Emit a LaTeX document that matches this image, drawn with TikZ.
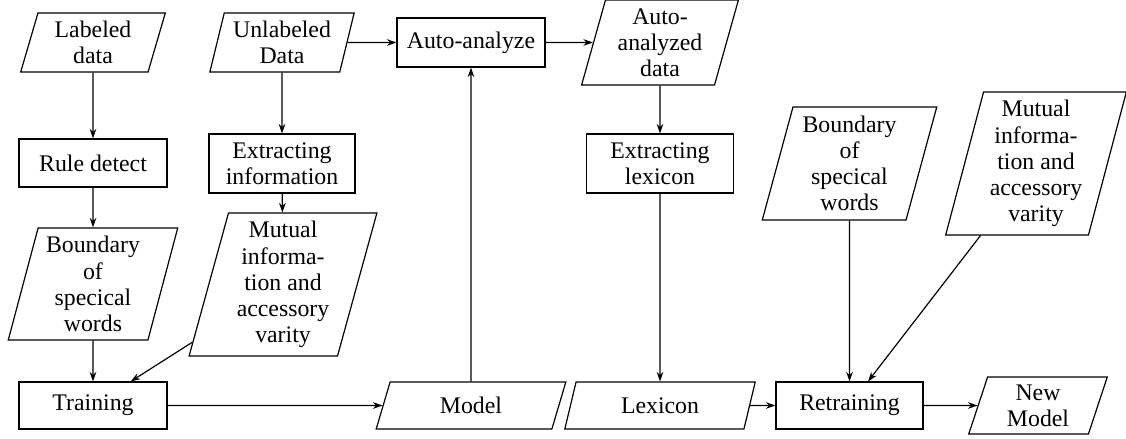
\documentclass[tikz,border=0pt]{standalone}
\usepackage{fontspec}
\setmainfont{Liberation Serif}
\usetikzlibrary{shapes.geometric,arrows.meta}
\tikzset{
  base/.style={draw, line width=0.5pt, align=center, inner sep=1pt, font=\fontsize{10}{11}\selectfont},
  procbox/.style={base, rectangle},
  databox/.style={base, trapezium, trapezium left angle=75, trapezium right angle=105, trapezium stretches=true},
  conn/.style={draw, line width=0.5pt, -{Stealth[length=4pt,width=2.8pt]}}
}
\begin{document}
\begin{tikzpicture}[x=0.4202pt, y=-0.4202pt]
\useasboundingbox (0,0) rectangle (1126,438);
% column 1
\node[databox, minimum width=60.9pt, minimum height=24.8pt] (labeled) at (93,42.5) {Labeled\\data};
\node[procbox, minimum width=62.2pt, minimum height=20.2pt] (rule) at (93,163) {Rule detect};
\node[databox, minimum width=71.4pt, minimum height=47.1pt] (boundL) at (93,284) {Boundary\\of\\specical\\words};
\node[procbox, minimum width=62.2pt, minimum height=19.75pt] (train) at (93,405.5) {Training};
% column 2
\node[databox, minimum width=60.9pt, minimum height=24.8pt] (unlabeled) at (282,42.5) {Unlabeled\\Data};
\node[procbox, minimum width=61.3pt, minimum height=24.8pt] (exinfo) at (282,163.5) {Extracting\\information};
\node[databox, minimum width=79pt, minimum height=60.1pt] (mutualL) at (283,284.5) {Mutual\\informa-\\tion and\\accessory\\varity};
% column 3
\node[procbox, minimum width=62.2pt, minimum height=20.6pt] (auto) at (471,42.5) {Auto-analyze};
\node[databox, minimum width=79.8pt, minimum height=19.75pt] (model) at (471,405.5) {Model};
% column 4
\node[databox, minimum width=66pt, minimum height=35.7pt] (autodata) at (660,42.5) {Auto-\\analyzed\\data};
\node[procbox, minimum width=61.8pt, minimum height=24.8pt] (exlex) at (660,163.5) {Extracting\\lexicon};
\node[databox, minimum width=80.2pt, minimum height=19.75pt] (lexicon) at (660,405.5) {Lexicon};
% column 5
\node[databox, minimum width=73.5pt, minimum height=47.5pt] (boundR) at (849.5,163.5) {Boundary\\of\\specical\\words};
\node[procbox, minimum width=61.8pt, minimum height=19.75pt] (retrain) at (849.5,405.5) {Retraining};
% column 6
\node[databox, minimum width=76pt, minimum height=60.1pt] (mutualR) at (1036,163.5) {Mutual\\informa-\\tion and\\accessory\\varity};
\node[databox, minimum width=58.4pt, minimum height=24pt] (newmodel) at (1038,405.5) {New\\Model};
% connectors
\draw[conn] (labeled) -- (rule);
\draw[conn] (rule) -- (boundL);
\draw[conn] (boundL) -- (train);
\draw[conn] (unlabeled) -- (exinfo);
\draw[conn] (exinfo) -- (mutualL);
\draw[conn] (mutualL) -- (train);
\draw[conn] (unlabeled) -- (auto);
\draw[conn] (auto) -- (autodata);
\draw[conn] (model) -- (auto);
\draw[conn] (train) -- (model);
\draw[conn] (autodata) -- (exlex);
\draw[conn] (exlex) -- (lexicon);
\draw[conn] (lexicon) -- (retrain);
\draw[conn] (boundR) -- (retrain);
\draw[conn] (mutualR) -- (retrain);
\draw[conn] (retrain) -- (newmodel);
\end{tikzpicture}
\end{document}
